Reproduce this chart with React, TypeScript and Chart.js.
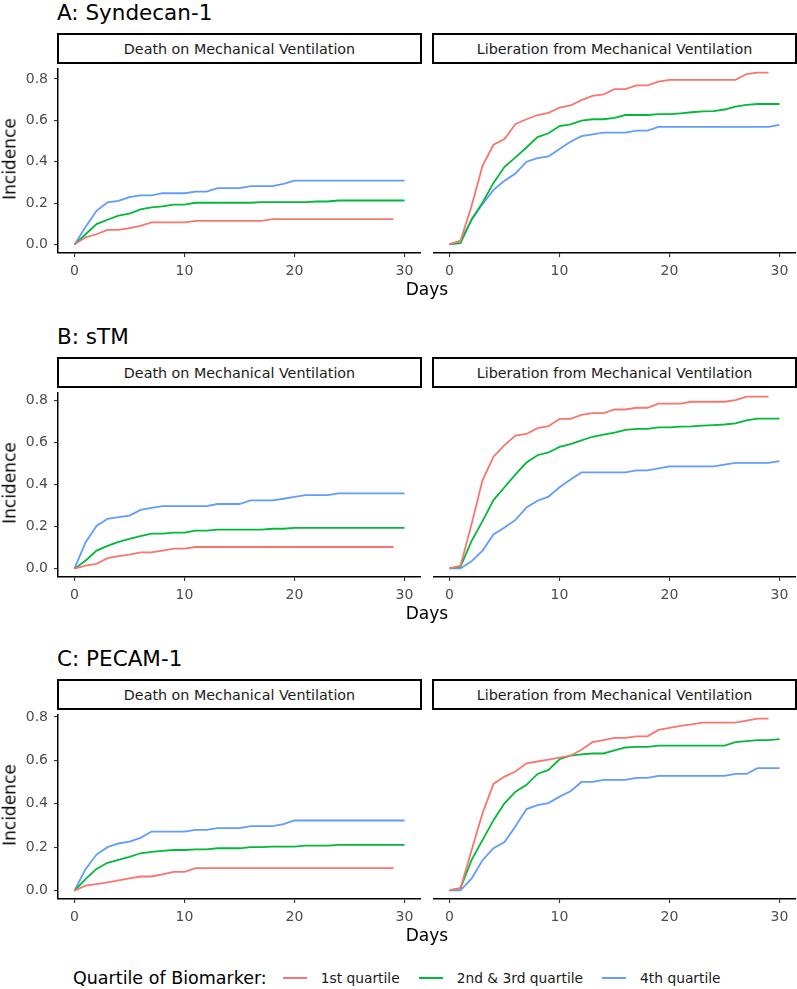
import React, { useEffect, useRef } from "react";
import { Chart, registerables } from "chart.js";

Chart.register(...registerables);

const FONT = "'DejaVu Sans', 'Liberation Sans', sans-serif";

const DAYS = [0, 1, 2, 3, 4, 5, 6, 7, 8, 9, 10, 11, 12, 13, 14, 15, 16, 17, 18, 19, 20, 21, 22, 23, 24, 25, 26, 27, 28, 29, 30];
const X_TICKS = [0, 10, 20, 30];
const Y_TICKS = [0, 0.2, 0.4, 0.6, 0.8];

const ROW_TITLES = ["A: Syndecan-1", "B: sTM", "C: PECAM-1"];
const PANEL_TITLES = ["Death on Mechanical Ventilation", "Liberation from Mechanical Ventilation"];
const SERIES_NAMES = ["1st quartile", "2nd & 3rd quartile", "4th quartile"];
const SERIES_COLORS = ["#F8766D", "#00BA38", "#619CFF"];

// Row A: Syndecan-1
const A_DEATH_Q1 = [0, 0.035, 0.05, 0.071, 0.071, 0.08, 0.09, 0.107, 0.107, 0.107, 0.107, 0.115, 0.115, 0.115, 0.115, 0.115, 0.115, 0.115, 0.123, 0.123, 0.123, 0.123, 0.123, 0.123, 0.123, 0.123, 0.123, 0.123, 0.123, 0.123];
const A_DEATH_Q23 = [0, 0.05, 0.099, 0.12, 0.14, 0.15, 0.17, 0.18, 0.185, 0.193, 0.193, 0.202, 0.202, 0.202, 0.202, 0.202, 0.202, 0.205, 0.205, 0.205, 0.205, 0.205, 0.208, 0.208, 0.213, 0.213, 0.213, 0.213, 0.213, 0.213, 0.213];
const A_DEATH_Q4 = [0, 0.085, 0.163, 0.204, 0.211, 0.229, 0.238, 0.238, 0.248, 0.248, 0.248, 0.256, 0.256, 0.273, 0.273, 0.273, 0.282, 0.282, 0.282, 0.293, 0.309, 0.309, 0.309, 0.309, 0.309, 0.309, 0.309, 0.309, 0.309, 0.309, 0.309];
const A_LIB_Q1 = [0, 0.017, 0.18, 0.37, 0.47, 0.497, 0.568, 0.59, 0.61, 0.62, 0.645, 0.655, 0.68, 0.7, 0.707, 0.732, 0.732, 0.75, 0.75, 0.767, 0.776, 0.776, 0.776, 0.776, 0.776, 0.776, 0.776, 0.803, 0.81, 0.81];
const A_LIB_Q23 = [0, 0.006, 0.118, 0.197, 0.29, 0.366, 0.41, 0.457, 0.506, 0.524, 0.558, 0.566, 0.584, 0.59, 0.59, 0.596, 0.61, 0.61, 0.61, 0.614, 0.614, 0.618, 0.623, 0.627, 0.628, 0.636, 0.65, 0.658, 0.662, 0.662, 0.662];
const A_LIB_Q4 = [0, 0.016, 0.114, 0.19, 0.257, 0.3, 0.334, 0.39, 0.407, 0.415, 0.45, 0.484, 0.51, 0.519, 0.527, 0.527, 0.527, 0.536, 0.536, 0.554, 0.554, 0.554, 0.554, 0.554, 0.554, 0.554, 0.554, 0.554, 0.554, 0.554, 0.563];

// Row B: sTM
const B_DEATH_Q1 = [0, 0.014, 0.023, 0.05, 0.059, 0.067, 0.077, 0.077, 0.086, 0.095, 0.095, 0.103, 0.103, 0.103, 0.103, 0.103, 0.103, 0.103, 0.103, 0.103, 0.103, 0.103, 0.103, 0.103, 0.103, 0.103, 0.103, 0.103, 0.103, 0.103];
const B_DEATH_Q23 = [0, 0.0375, 0.086, 0.108, 0.127, 0.142, 0.155, 0.167, 0.167, 0.172, 0.172, 0.181, 0.181, 0.186, 0.186, 0.186, 0.186, 0.186, 0.19, 0.19, 0.194, 0.194, 0.194, 0.194, 0.194, 0.194, 0.194, 0.194, 0.194, 0.194, 0.194];
const B_DEATH_Q4 = [0, 0.125, 0.203, 0.2375, 0.245, 0.253, 0.28, 0.289, 0.298, 0.298, 0.298, 0.298, 0.298, 0.308, 0.308, 0.308, 0.325, 0.325, 0.325, 0.333, 0.342, 0.35, 0.35, 0.35, 0.359, 0.359, 0.359, 0.359, 0.359, 0.359, 0.359];
const B_LIB_Q1 = [0, 0.0125, 0.205, 0.41, 0.52, 0.574, 0.618, 0.626, 0.653, 0.662, 0.696, 0.696, 0.715, 0.723, 0.723, 0.74, 0.74, 0.748, 0.748, 0.767, 0.767, 0.767, 0.776, 0.776, 0.776, 0.776, 0.784, 0.8, 0.8, 0.8];
const B_LIB_Q23 = [0, 0.008, 0.127, 0.22, 0.318, 0.378, 0.438, 0.493, 0.527, 0.54, 0.566, 0.579, 0.596, 0.613, 0.623, 0.632, 0.645, 0.65, 0.65, 0.657, 0.657, 0.66, 0.661, 0.665, 0.667, 0.67, 0.675, 0.689, 0.697, 0.697, 0.697];
const B_LIB_Q4 = [0, 0, 0.033, 0.083, 0.158, 0.19, 0.226, 0.284, 0.315, 0.334, 0.378, 0.414, 0.447, 0.447, 0.447, 0.447, 0.447, 0.456, 0.456, 0.466, 0.475, 0.475, 0.475, 0.475, 0.475, 0.483, 0.491, 0.491, 0.491, 0.491, 0.5];

// Row C: PECAM-1
const C_DEATH_Q1 = [0, 0.023, 0.03, 0.038, 0.047, 0.056, 0.065, 0.065, 0.075, 0.086, 0.086, 0.104, 0.104, 0.104, 0.104, 0.104, 0.104, 0.104, 0.104, 0.104, 0.104, 0.104, 0.104, 0.104, 0.104, 0.104, 0.104, 0.104, 0.104, 0.104];
const C_DEATH_Q23 = [0, 0.053, 0.1, 0.128, 0.142, 0.155, 0.172, 0.178, 0.183, 0.187, 0.187, 0.19, 0.19, 0.195, 0.195, 0.195, 0.2, 0.2, 0.203, 0.203, 0.203, 0.207, 0.207, 0.207, 0.211, 0.211, 0.211, 0.211, 0.211, 0.211, 0.211];
const C_DEATH_Q4 = [0, 0.098, 0.166, 0.2, 0.217, 0.226, 0.243, 0.272, 0.272, 0.272, 0.272, 0.28, 0.28, 0.288, 0.288, 0.288, 0.297, 0.297, 0.297, 0.306, 0.323, 0.323, 0.323, 0.323, 0.323, 0.323, 0.323, 0.323, 0.323, 0.323, 0.323];
const C_LIB_Q1 = [0, 0.01, 0.18, 0.347, 0.479, 0.512, 0.535, 0.572, 0.58, 0.588, 0.597, 0.606, 0.633, 0.667, 0.676, 0.686, 0.686, 0.693, 0.693, 0.722, 0.731, 0.74, 0.747, 0.755, 0.755, 0.755, 0.755, 0.764, 0.773, 0.773];
const C_LIB_Q23 = [0, 0.01, 0.136, 0.226, 0.316, 0.392, 0.444, 0.475, 0.524, 0.542, 0.59, 0.606, 0.612, 0.616, 0.616, 0.63, 0.643, 0.646, 0.646, 0.651, 0.651, 0.651, 0.651, 0.651, 0.651, 0.651, 0.667, 0.672, 0.676, 0.676, 0.681];
const C_LIB_Q4 = [0, 0, 0.053, 0.136, 0.19, 0.218, 0.289, 0.366, 0.384, 0.393, 0.422, 0.446, 0.488, 0.488, 0.497, 0.497, 0.497, 0.506, 0.506, 0.515, 0.515, 0.515, 0.515, 0.515, 0.515, 0.515, 0.524, 0.524, 0.55, 0.55, 0.55];

const ROWS = [
  [[A_DEATH_Q1, A_DEATH_Q23, A_DEATH_Q4], [A_LIB_Q1, A_LIB_Q23, A_LIB_Q4]],
  [[B_DEATH_Q1, B_DEATH_Q23, B_DEATH_Q4], [B_LIB_Q1, B_LIB_Q23, B_LIB_Q4]],
  [[C_DEATH_Q1, C_DEATH_Q23, C_DEATH_Q4], [C_LIB_Q1, C_LIB_Q23, C_LIB_Q4]],
];

const ROW_TOPS = [0, 324, 646];
const PANEL_LEFT = [58, 433];
const PANEL_W = 363;
const PLOT_TOP = 64;
const PLOT_BOTTOM = 253;

type PanelProps = {
  left: number;
  top: number;
  width: number;
  height: number;
  showY: boolean;
  yMin: number;
  yMax: number;
  series: number[][];
};

function Panel({ left, top, width, height, showY, yMin, yMax, series }: PanelProps) {
  const ref = useRef<HTMLCanvasElement>(null);
  useEffect(() => {
    const tickFont = { family: FONT, size: 14 };
    const chart = new Chart(ref.current as HTMLCanvasElement, {
      type: "line",
      data: {
        datasets: series.map((vals, k) => ({
          label: SERIES_NAMES[k],
          data: vals.map((v, i) => ({ x: DAYS[i], y: v })),
          borderColor: SERIES_COLORS[k],
          backgroundColor: SERIES_COLORS[k],
          borderWidth: 1.8,
          pointRadius: 0,
          tension: 0,
          fill: false,
        })),
      },
      options: {
        animation: false,
        responsive: false,
        maintainAspectRatio: false,
        devicePixelRatio: 1,
        events: [],
        layout: { padding: { top: 10, right: showY ? 0 : 1, left: 0, bottom: 0 } },
        plugins: { legend: { display: false }, tooltip: { enabled: false }, title: { display: false } },
        scales: {
          x: {
            type: "linear",
            min: -1.5,
            max: 31.5,
            afterBuildTicks: (s: any) => {
              s.ticks = X_TICKS.map((v) => ({ value: v }));
            },
            afterFit: (s: any) => {
              s.height = 30;
            },
            ticks: {
              color: "#4D4D4D",
              font: tickFont,
              padding: 6,
              maxRotation: 0,
              autoSkip: false,
              callback: (v: any) => String(v),
            },
            grid: { display: true, drawOnChartArea: false, drawTicks: true, tickLength: 4, color: "#333333", lineWidth: 1.1 },
            border: { display: true, color: "#000000", width: 1.5 },
          },
          y: {
            type: "linear",
            display: showY,
            min: yMin,
            max: yMax,
            afterBuildTicks: (s: any) => {
              s.ticks = Y_TICKS.map((v) => ({ value: v }));
            },
            afterFit: (s: any) => {
              s.width = showY ? 58 : 0;
            },
            ticks: {
              color: "#4D4D4D",
              font: tickFont,
              padding: 6,
              autoSkip: false,
              callback: (v: any) => Number(v).toFixed(1),
            },
            grid: { display: true, drawOnChartArea: false, drawTicks: true, tickLength: 4, color: "#333333", lineWidth: 1.1 },
            border: { display: true, color: "#000000", width: 1.5 },
          },
        },
      },
    } as any);
    return () => chart.destroy();
  }, []);
  return (
    <canvas
      ref={ref}
      width={width}
      height={height}
      style={{ position: "absolute", left, top, width, height, display: "block" }}
    />
  );
}

function Row({ index }: { index: number }) {
  const rowTop = ROW_TOPS[index];
  const panels = ROWS[index];
  let maxVal = 0;
  panels.forEach((p) => p.forEach((s) => s.forEach((v) => (maxVal = Math.max(maxVal, v)))));
  const yMin = -0.05 * maxVal;
  const yMax = 1.05 * maxVal;
  const canvasTop = rowTop + PLOT_TOP - 10;
  const canvasH = PLOT_BOTTOM - PLOT_TOP + 10 + 30;
  return (
    <>
      <div
        style={{
          position: "absolute",
          left: 57,
          top: rowTop + 2,
          fontSize: 21.5,
          lineHeight: "21.5px",
          color: "#000",
          whiteSpace: "nowrap",
        }}
      >
        {ROW_TITLES[index]}
      </div>
      {PANEL_TITLES.map((t, j) => (
        <div
          key={t}
          style={{
            position: "absolute",
            left: PANEL_LEFT[j] - 1,
            top: rowTop + 33,
            width: PANEL_W + 2,
            height: 31,
            boxSizing: "border-box",
            border: "2px solid #000",
            background: "#fff",
            display: "flex",
            alignItems: "center",
            justifyContent: "center",
            fontSize: 14.3,
            color: "#1A1A1A",
            whiteSpace: "nowrap",
          }}
        >
          {t}
        </div>
      ))}
      <Panel
        left={0}
        top={canvasTop}
        width={PANEL_LEFT[0] + PANEL_W}
        height={canvasH}
        showY={true}
        yMin={yMin}
        yMax={yMax}
        series={panels[0]}
      />
      <Panel
        left={PANEL_LEFT[1]}
        top={canvasTop}
        width={PANEL_W + 1}
        height={canvasH}
        showY={false}
        yMin={yMin}
        yMax={yMax}
        series={panels[1]}
      />
      <div
        style={{
          position: "absolute",
          left: 10,
          top: rowTop + (PLOT_TOP + PLOT_BOTTOM) / 2,
          transform: "translate(-50%, -50%) rotate(-90deg)",
          fontSize: 17,
          lineHeight: "17px",
          color: "#000",
          whiteSpace: "nowrap",
        }}
      >
        Incidence
      </div>
      <div
        style={{
          position: "absolute",
          left: 0,
          width: 854,
          top: rowTop + 281,
          textAlign: "center",
          fontSize: 17,
          lineHeight: "17px",
          color: "#000",
        }}
      >
        Days
      </div>
    </>
  );
}

export default function App() {
  return (
    <div
      style={{
        position: "absolute",
        left: 0,
        top: 0,
        width: 797,
        height: 989,
        background: "#fff",
        fontFamily: FONT,
        overflow: "hidden",
      }}
    >
      <Row index={0} />
      <Row index={1} />
      <Row index={2} />
      <div
        style={{
          position: "absolute",
          left: 73,
          top: 966,
          height: 24,
          display: "flex",
          alignItems: "center",
          whiteSpace: "nowrap",
        }}
      >
        <span style={{ fontSize: 17.5, color: "#000", marginRight: 16 }}>Quartile of Biomarker:</span>
        {SERIES_NAMES.map((n, k) => (
          <span key={n} style={{ display: "flex", alignItems: "center", marginRight: 19 }}>
            <span style={{ display: "inline-block", width: 24, height: 2, background: SERIES_COLORS[k], marginRight: 14 }} />
            <span style={{ fontSize: 13.8, color: "#1A1A1A" }}>{n}</span>
          </span>
        ))}
      </div>
    </div>
  );
}
